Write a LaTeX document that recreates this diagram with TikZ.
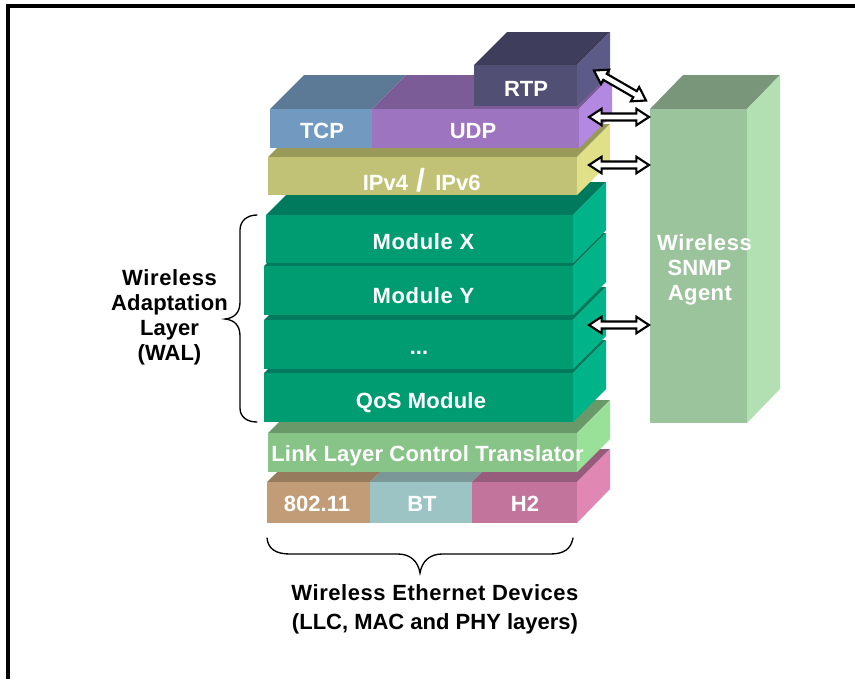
\documentclass[tikz,border=0pt]{standalone}
\usepackage{fontspec}
\setmainfont{Liberation Sans}
\usetikzlibrary{calc}
\definecolor{rtpF}{HTML}{524F74}\definecolor{rtpT}{HTML}{3E3D5C}\definecolor{rtpS}{HTML}{5C5A86}
\definecolor{tcpF}{HTML}{7299BF}\definecolor{tcpT}{HTML}{5C7A96}
\definecolor{udpF}{HTML}{9C74C0}\definecolor{udpT}{HTML}{7C5C96}\definecolor{udpS}{HTML}{B388E0}
\definecolor{ipF}{HTML}{C2C276}\definecolor{ipT}{HTML}{999959}\definecolor{ipS}{HTML}{E0E088}
\definecolor{modF}{HTML}{009C71}\definecolor{modT}{HTML}{007A5C}\definecolor{modS}{HTML}{00B388}
\definecolor{llcF}{HTML}{88C488}\definecolor{llcT}{HTML}{699969}\definecolor{llcS}{HTML}{99E099}
\definecolor{wifiF}{HTML}{C29C76}\definecolor{wifiT}{HTML}{967B5C}
\definecolor{btF}{HTML}{9CC4C4}\definecolor{btT}{HTML}{7C9797}
\definecolor{htwoF}{HTML}{C2749C}\definecolor{htwoT}{HTML}{975C7B}\definecolor{htwoS}{HTML}{E088B3}
\definecolor{agF}{HTML}{9CC49C}\definecolor{agT}{HTML}{7A967A}\definecolor{agS}{HTML}{B3E0B3}
\tikzset{
  x=0.75pt,y=-0.75pt,
  lab/.style={font=\fontsize{16.5pt}{18.9pt}\bfseries,text=white,inner sep=0pt,align=center},
  blab/.style={lab,text=black},
  bracepath/.style={draw=black,line width=1pt,line cap=round},
  blockarrow/.style={draw=black,fill=white,line width=1.6pt,line join=miter},
}
% block(x0,y0,x1,y1,dx,dy,front,top,side)
\newcommand{\slab}[9]{%
  \fill[#8] (#1,#2)--(#3,#2)--++(#5,-#6)--++(-#3+#1,0)--cycle;
  \fill[#9] (#3,#2)--++(#5,-#6)--++(0,#4-#2)--(#3,#4)--cycle;
  \fill[#7] (#1,#2) rectangle (#3,#4);
}
\newcommand{\blockarrowdraw}[2]{%
  \coordinate (h#1) at ($(#1)!9.5pt!(#2)$);
  \coordinate (h#2) at ($(#2)!9.5pt!(#1)$);
  \draw[blockarrow]
    (#1)
    --($(h#1)!6.2pt!90:(#2)$)
    --($(h#1)!2.6pt!90:(#2)$)
    --($(h#2)!2.6pt!-90:(#1)$)
    --($(h#2)!6.2pt!-90:(#1)$)
    --(#2)
    --($(h#2)!6.2pt!90:(#1)$)
    --($(h#2)!2.6pt!90:(#1)$)
    --($(h#1)!2.6pt!-90:(#2)$)
    --($(h#1)!6.2pt!-90:(#2)$)
    --cycle;
}
\begin{document}
\begin{tikzpicture}
\useasboundingbox (0,0) rectangle (855,679);
\fill[white] (0,0) rectangle (855,679);
\fill[black] (6,4) rectangle (855,8);
\fill[black] (6,4) rectangle (10,679);

% bottom slabs
\fill[wifiT] (267,482)--(370,482)--(404,449)--(301,449)--cycle;
\fill[btT] (370,482)--(472,482)--(506,449)--(404,449)--cycle;
\fill[htwoT] (472,482)--(577,482)--(610,449)--(506,449)--cycle;
\fill[htwoS] (577,482)--(610,449)--(610,489)--(577,523)--cycle;
\fill[wifiF] (267,482) rectangle (370,523);
\fill[btF] (370,482) rectangle (472,523);
\fill[htwoF] (472,482) rectangle (577,523);
\slab{268}{433}{577}{472}{33}{33}{llcF}{llcT}{llcS}
% modules
\slab{264}{373}{573}{422}{33}{33}{modF}{modT}{modS}
\slab{264}{320}{573}{369}{33}{33}{modF}{modT}{modS}
\slab{264}{266}{573}{315}{33}{33}{modF}{modT}{modS}
\slab{266}{215}{573}{263}{33}{33}{modF}{modT}{modS}
% ip
\slab{268}{157}{577}{195}{33}{33}{ipF}{ipT}{ipS}
% tcp udp
\fill[tcpT] (270,109)--(372,109)--(406,75)--(304,75)--cycle;
\fill[udpT] (372,109)--(579,109)--(612,75)--(406,75)--cycle;
\fill[udpS] (579,109)--(612,75)--(612,115)--(579,148)--cycle;
\fill[tcpF] (270,109) rectangle (372,148);
\fill[udpF] (372,109) rectangle (579,148);
% rtp
\slab{474}{65}{577}{106}{33}{33}{rtpF}{rtpT}{rtpS}
% agent
\slab{650}{109}{747}{423}{33}{34}{agF}{agT}{agS}

% labels
\node[lab] (rtp) at (526,89) {RTP};
\node[lab] (tcp) at (322,131) {TCP};
\node[lab] (udp) at (473,131) {UDP};
\node[lab,anchor=base] (ipa) at (385.5,190) {IPv4};
\node[lab,anchor=base] (ipb) at (458,190) {IPv6};
\node[lab,font=\fontsize{24pt}{26pt}\bfseries,anchor=base] (slash) at (420.5,191) {/};
\node[lab] (mx) at (423.5,242) {\addfontfeature{LetterSpace=3}Module X};
\node[lab] (my) at (423.5,296) {\addfontfeature{LetterSpace=3}Module Y};
\node[lab] (md) at (419,353) {...};
\node[lab] (qos) at (421,402.5) {\addfontfeature{LetterSpace=1}QoS Module};
\node[lab] (llc) at (427.5,456) {\addfontfeature{LetterSpace=1}Link Layer Control Translator};
\node[lab] (w) at (317,504) {802.11};
\node[lab] (bt) at (422,504) {BT};
\node[lab] (h2) at (525,504) {H2};
\node[lab] (ag) at (704.5,270) {\addfontfeature{LetterSpace=3}Wireless\\SNMP\kern7.5pt\\\addfontfeature{LetterSpace=2}Agent\kern7pt};
\node[blab] (wal) at (169.5,317.5) {\addfontfeature{LetterSpace=3}Wireless\\\addfontfeature{LetterSpace=1}Adaptation\\Layer\\(WAL)};
\node[blab,font=\fontsize{16.5pt}{21.8pt}\bfseries] (dev) at (435,609.5) {\addfontfeature{LetterSpace=2.5}Wireless Ethernet Devices\\(LLC, MAC and PHY layers)};

% braces
\draw[bracepath] (257,215) .. controls (247,215) and (240,221) .. (240,230)
  -- (240,302) .. controls (240,312) and (235,318) .. (225,319)
  .. controls (235,320) and (240,326) .. (240,336)
  -- (240,408) .. controls (240,417) and (247,422) .. (257,422);
\draw[bracepath] (267,538) .. controls (268,549) and (276,554) .. (290,554)
  -- (398,554) .. controls (410,554) and (418,561) .. (420,573)
  .. controls (422,561) and (430,554) .. (442,554)
  -- (550,554) .. controls (564,554) and (571,549) .. (573,538);

% arrows
\coordinate (a1) at (594,70.5);\coordinate (b1) at (646,100.5);
\coordinate (a2) at (589,117);\coordinate (b2) at (649,117);
\coordinate (a3) at (589,165);\coordinate (b3) at (649,165);
\coordinate (a4) at (589,325);\coordinate (b4) at (649,325);
\blockarrowdraw{a1}{b1}
\blockarrowdraw{a2}{b2}
\blockarrowdraw{a3}{b3}
\blockarrowdraw{a4}{b4}
\end{tikzpicture}
\end{document}
